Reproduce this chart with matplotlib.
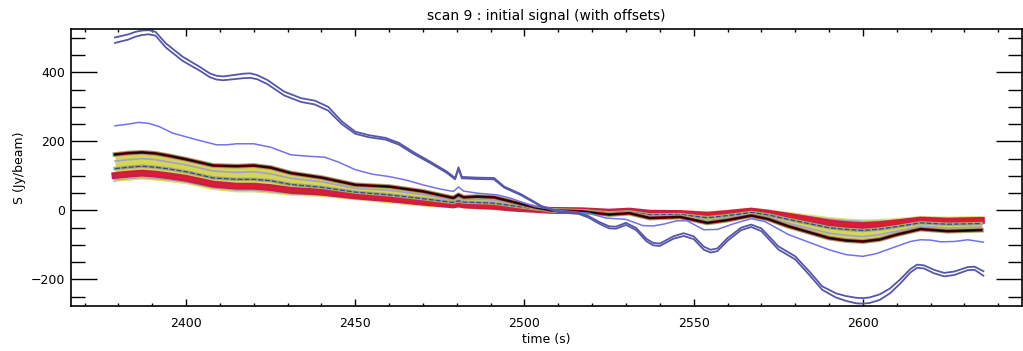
import matplotlib
matplotlib.use('Agg')
import matplotlib.pyplot as plt
from matplotlib.ticker import MultipleLocator

#two dark blue detectors (top pair)
t_db = [2379, 2383, 2385, 2387, 2389, 2391, 2394, 2399, 2404, 2407, 2409, 2411, 2414,
        2417, 2419, 2421, 2424, 2429, 2434, 2438, 2442, 2446, 2450, 2454, 2459, 2463,
        2467, 2472, 2477, 2479.5, 2480.5, 2481.5, 2486, 2491, 2494, 2499, 2505, 2510,
        2516, 2519, 2522, 2525, 2527, 2530, 2533, 2536, 2538, 2540, 2544, 2547, 2550,
        2553, 2555, 2557, 2560, 2564, 2567, 2570, 2575, 2580, 2584, 2588, 2592, 2595,
        2598, 2600, 2602, 2605, 2608, 2611, 2614, 2616, 2618, 2621, 2624, 2627, 2631,
        2633, 2635.6]
s_db1 = [501, 510, 517, 521, 522, 517, 484, 445, 416, 397, 390, 388, 392,
         396, 397, 392, 378, 344, 325, 318, 300, 258, 228, 218, 210, 195,
         170, 142, 113, 94, 125, 97, 95, 94, 69, 47, 13, -3,
         -7, -17, -33, -46, -47, -36, -51, -82, -94, -96, -75, -66, -75,
         -105, -114, -110, -80, -50, -41, -52, -104, -133, -175, -220, -240, -248,
         -253, -254, -252, -243, -226, -200, -170, -157, -159, -172, -181, -177, -164,
         -163, -176]
s_db2 = [485, 495, 503, 508, 510, 506, 472, 433, 405, 386, 379, 377, 380,
         383, 384, 380, 366, 333, 314, 307, 289, 250, 222, 212, 205, 190,
         165, 138, 109, 90, 120, 93, 91, 90, 66, 44, 11, -5,
         -10, -21, -38, -52, -53, -42, -57, -89, -101, -103, -82, -74, -83,
         -114, -122, -118, -88, -57, -48, -60, -113, -142, -185, -230, -252, -262,
         -269, -270, -268, -259, -240, -212, -180, -166, -168, -182, -191, -187, -173,
         -172, -189]

#light blue detector
t_lb = [2379, 2383, 2386, 2389, 2392, 2396, 2403, 2409, 2412, 2415, 2420, 2425, 2431,
        2436, 2441, 2445, 2450, 2455, 2460, 2465, 2470, 2475, 2479, 2480.5, 2482, 2486,
        2492, 2496, 2500, 2503, 2510, 2519, 2524, 2527, 2530, 2535, 2538, 2541, 2545,
        2548, 2553, 2557, 2562, 2567, 2571, 2578, 2590, 2595, 2600, 2604, 2610, 2614,
        2617, 2620, 2623, 2627, 2631, 2635.6]
s_lb = [245, 250, 255, 252, 243, 224, 205, 190, 190, 193, 193, 183, 161,
        157, 154, 140, 118, 105, 98, 88, 74, 62, 55, 68, 56, 50,
        45, 35, 21, 11, 0, -8, -22, -24, -26, -44, -45, -40, -30,
        -30, -56, -55, -38, -24, -32, -70, -114, -128, -133, -125, -104, -90,
        -85, -86, -91, -90, -85, -92]

#main band of detectors
t_band = [2379, 2383, 2387, 2391, 2395, 2400, 2408, 2415, 2420, 2425, 2431, 2440, 2450,
          2460, 2470, 2479, 2480.5, 2482, 2486, 2491, 2496, 2503, 2508, 2517, 2525, 2531,
          2537, 2546, 2554, 2560, 2567, 2572, 2578, 2590, 2595, 2600, 2605, 2610, 2617,
          2625, 2635]
s_band_hi = [162, 166, 168, 165, 158, 148, 130, 128, 130, 124, 108, 95, 74,
             69, 55, 36, 45, 38, 40, 38, 26, 9, 0, -3, -12, -8,
             -22, -19, -36, -28, -15, -25, -46, -80, -87, -90, -84, -70, -54,
             -60, -57]
s_band_lav = [143, 147, 150, 147, 140, 132, 114, 110, 112, 106, 93, 83, 64,
              58, 46, 30, 37, 32, 32, 30, 21, 7, 0, -2, -10, -6,
              -18, -16, -29, -22, -11, -19, -37, -66, -72, -76, -70, -60, -46,
              -51, -48]
s_band_blue = [121, 125, 128, 125, 120, 112, 94, 90, 90, 86, 75, 67, 53,
               45, 34, 23, 28, 24, 23, 21, 14, 5, 0, -1, -7, -4,
               -13, -12, -21, -15, -6, -13, -26, -50, -55, -58, -54, -47, -36,
               -40, -38]
s_band_red = [101, 105, 108, 105, 100, 93, 76, 70, 70, 66, 58, 53, 42,
              34, 24, 16, 19, 16, 14, 12, 7, 3, 0, -1, -5, -2,
              -8, -9, -14, -9, -2, -8, -17, -36, -41, -44, -41, -36, -28,
              -31, -29]
s_band_lo = [88, 92, 95, 92, 88, 82, 65, 58, 58, 54, 48, 45, 36,
             26, 17, 12, 14, 12, 9, 7, 4, 1, 0, 0, -3, 0,
             -5, -6, -8, -4, 2, -3, -10, -25, -29, -32, -31, -28, -22,
             -24, -22]

fig = plt.figure(figsize=(10.23, 3.51), dpi=100)
ax = fig.add_axes([0.0694, 0.129, 0.9296, 0.787])

#band body
ax.fill_between(t_band, s_band_lo, s_band_hi, color='#d6d655', lw=0)
ax.plot(t_band, s_band_lo, color='#e0e070', lw=3)
ax.plot(t_band, s_band_lo, color='#a8a8a8', lw=1)
ax.plot(t_band, s_band_red, color='#cc1e44', lw=5)
ax.plot(t_band, s_band_red, color='#e81c28', lw=1)
ax.plot(t_band, s_band_blue, color='#a8a870', lw=2.5)
ax.plot(t_band, s_band_blue, color='#2848a0', lw=0.9, dashes=(4, 1.5))
ax.plot(t_band, s_band_lav, color='#a0a0d0', lw=1.2)
ax.plot(t_band, s_band_hi, color='#a8a070', lw=3.5)
ax.plot(t_band, s_band_hi, color='#6a0008', lw=2)
ax.plot(t_band, s_band_hi, color='black', lw=0.7)

#blue detectors
ax.plot(t_lb, s_lb, color='#7272ea', lw=1.1)
ax.plot(t_db, s_db1, color='#5656aa', lw=1.3)
ax.plot(t_db, s_db2, color='#5656aa', lw=1.3)

ax.set_xlim(2366, 2647)
ax.set_ylim(-276, 524)

#idl style ticks on all sides
ax.xaxis.set_major_locator(MultipleLocator(50))
ax.xaxis.set_minor_locator(MultipleLocator(10))
ax.yaxis.set_major_locator(MultipleLocator(200))
ax.yaxis.set_minor_locator(MultipleLocator(50))
ax.tick_params(axis='x', which='major', direction='in', length=5, width=1,
               top=True, labelsize=9, pad=8)
ax.tick_params(axis='x', which='minor', direction='in', length=2.5, width=1, top=True)
ax.tick_params(axis='y', which='major', direction='in', length=19, width=1,
               right=True, labelsize=9, pad=4)
ax.tick_params(axis='y', which='minor', direction='in', length=10, width=1, right=True)
for s in ax.spines.values():
    s.set_linewidth(1.2)

ax.set_title('scan 9 : initial signal (with offsets)', fontsize=10, pad=7)
ax.set_xlabel('time (s)', fontsize=9, labelpad=2)
ax.set_ylabel('S (Jy/beam)', fontsize=9, labelpad=4)

fig.savefig('out.png', dpi=100)
